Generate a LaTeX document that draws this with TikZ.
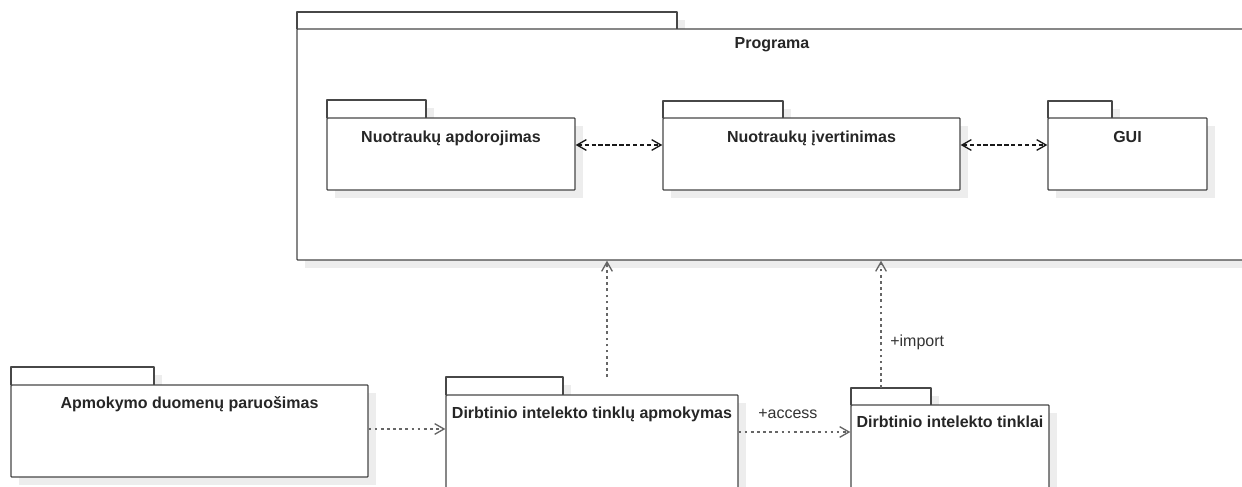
\documentclass[tikz,border=0pt]{standalone}
\usepackage{fontspec}
\setmainfont{Liberation Sans}
\usetikzlibrary{arrows.meta,fit}

\tikzset{
  pkgline/.style={draw=black!72, line width=1pt, line join=round},
  pkgbody/.style={pkgline, fill=white, inner sep=0pt, rounded corners=0.6pt},
  shadowfill/.style={fill=black!7},
  pkgtitle/.style={font=\bfseries\fontsize{12pt}{14pt}\selectfont, text=black!85, anchor=base, inner sep=0pt},
  linklabel/.style={font=\fontsize{12pt}{14pt}\selectfont, text=black!80, anchor=base west, inner sep=0pt},
  depinner/.style={draw=black!90, line width=1.4pt, dash pattern=on 3.2pt off 2pt,
    {Straight Barb[length=7pt,width=8pt,line width=1pt]}-{Straight Barb[length=7pt,width=8pt,line width=1pt]}},
  depouter/.style={draw=black!60, line width=1.3pt, dash pattern=on 2pt off 2.6pt,
    -{Straight Barb[length=7pt,width=8pt,line width=1pt]}},
}

% #1 name, #2 left, #3 tab top, #4 tab right, #5 body top, #6 right, #7 bottom, #8 title offset, #9 title
\newcommand\pkgbox[9]{%
  \fill[shadowfill] (#2+8,#3+8) rectangle (#4+8,#5+8);
  \fill[shadowfill] (#2+8,#5+8) rectangle (#6+8,#7+8);
  \filldraw[pkgline, fill=white] (#2,#5) -- (#2,#3) -- (#4,#3) -- (#4,#5);
  \node[pkgbody, fit={(#2,#5) (#6,#7)}] (#1) {};
  \node[pkgtitle] (#1-title) at ({(#2+#6)/2},#5+#8) {#9};
}

\begin{document}
\begin{tikzpicture}[x=0.75pt, y=-0.75pt]
  \useasboundingbox (0,0) rectangle (1242,486);
  \clip (0,0) rectangle (1242,486);
  \fill[white] (0,0) rectangle (1242,486);

  % application package and its parts
  \pkgbox{prog}{297}{12}{677}{29}{1247}{260}{19}{Programa}
  \pkgbox{proc}{327}{100}{426}{118}{575}{190}{24}{Nuotraukų apdorojimas}
  \pkgbox{eval}{663}{101}{783}{118}{960}{190}{24}{Nuotraukų įvertinimas}
  \pkgbox{gui}{1048}{101}{1112}{118}{1207}{190}{24}{GUI}

  % training side
  \pkgbox{prep}{11}{367}{154}{385}{368}{477}{23}{Apmokymo duomenų paruošimas}
  \pkgbox{train}{446}{377}{563}{395}{738}{492}{23}{Dirbtinio intelekto tinklų apmokymas}
  \pkgbox{nets}{851}{388}{931}{405}{1049}{492}{22}{Dirbtinio intelekto tinklai}

  % helper coordinates for connector rows and columns
  \coordinate (rowA) at (0,145);
  \coordinate (rowB) at (0,429);
  \coordinate (rowC) at (0,432);
  \coordinate (trainup) at (607,377);
  \coordinate (netsup) at (881,388);

  % dependencies inside the application
  \draw[depinner] (proc.east |- rowA) -- (eval.west |- rowA);
  \draw[depinner] (eval.east |- rowA) -- (gui.west |- rowA);

  % dependencies of the training side
  \draw[depouter] (prep.east |- rowB) -- (train.west |- rowB);
  \draw[depouter] (train.east |- rowC) -- (nets.west |- rowC);
  \node[linklabel] (acclabel) at (758,418) {+access};
  \draw[depouter] (trainup) -- (prog.south -| trainup);
  \draw[depouter] (netsup) -- (prog.south -| netsup);
  \node[linklabel] (implabel) at (890,346) {+import};
\end{tikzpicture}
\end{document}
